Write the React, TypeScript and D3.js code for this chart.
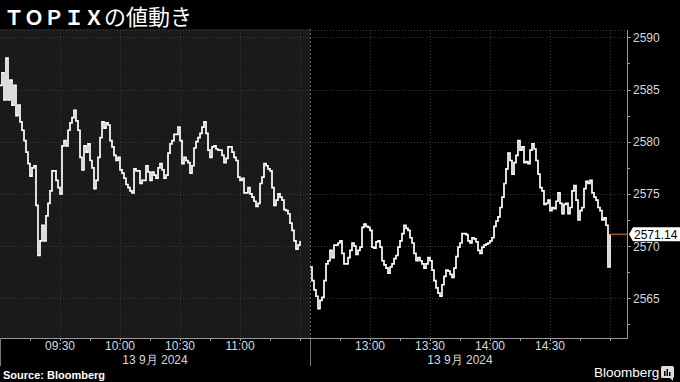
import React from 'react';
import * as d3 from 'd3';

const titleLatin = 'ＴＯＰＩＸ';
const titleJa = 'の値動き';
const sourceText = 'Source: Bloomberg';
const brandText = 'Bloomberg';
const dateLabel = '13 9月 2024';

// minute-by-minute index level, 09:00 - 11:30
const morningValues = [
  2585.4, 2586.6, 2584.0, 2588.0, 2584.0, 2585.9, 2583.5, 2585.4, 2582.5, 2583.5,
  2581.9, 2581.1, 2580.1, 2579.0, 2577.9, 2576.7, 2577.5, 2577.7, 2573.9, 2569.1,
  2570.5, 2572.0, 2570.5, 2572.9, 2574.1, 2575.3, 2577.2, 2577.2, 2576.3, 2575.6,
  2575.0, 2579.6, 2580.1, 2579.6, 2581.1, 2581.8, 2582.3, 2583.0, 2582.0, 2581.1,
  2578.5, 2577.3, 2579.6, 2579.0, 2579.8, 2578.2, 2577.5, 2575.5, 2576.3, 2578.5,
  2580.4, 2581.9, 2581.3, 2581.8, 2581.6, 2580.1, 2579.5, 2578.7, 2578.2, 2578.5,
  2577.3, 2577.0, 2576.5, 2575.9, 2575.6, 2575.3, 2575.1, 2577.4, 2577.2, 2577.2,
  2576.0, 2576.3, 2576.3, 2577.7, 2577.1, 2576.3, 2577.1, 2576.8, 2576.5, 2577.5,
  2577.9, 2577.3, 2576.5, 2576.8, 2578.9, 2579.8, 2580.1, 2580.7, 2580.7, 2581.4,
  2580.1, 2577.9, 2578.5, 2578.2, 2578.0, 2577.0, 2577.7, 2579.4, 2580.0, 2580.4,
  2580.8, 2581.4, 2581.9, 2580.8, 2579.2, 2578.5, 2579.5, 2579.6, 2579.3, 2579.2,
  2579.2, 2578.7, 2578.0, 2578.4, 2579.5, 2579.5, 2579.0, 2578.5, 2578.2, 2576.6,
  2576.3, 2576.5, 2575.1, 2575.1, 2575.6, 2575.0, 2574.7, 2574.3, 2573.8, 2574.1,
  2576.0, 2576.6, 2577.9, 2577.7, 2577.4, 2577.2, 2575.6, 2573.9, 2574.4, 2575.0,
  2574.7, 2574.4, 2573.5, 2573.4, 2573.1, 2572.2, 2571.5, 2570.5, 2569.7, 2570.1,
  2570.5,
];

// minute-by-minute index level, 12:30 - 15:00
const afternoonValues = [
  2568.0, 2566.7, 2565.8, 2565.2, 2564.0, 2564.8, 2565.1, 2566.7, 2568.3, 2568.6,
  2569.6, 2568.9, 2570.1, 2570.1, 2570.3, 2570.5, 2569.3, 2568.3, 2568.3, 2568.9,
  2569.6, 2570.3, 2570.0, 2569.2, 2569.6, 2569.9, 2571.8, 2572.1, 2571.9, 2571.8,
  2571.5, 2569.9, 2569.8, 2570.4, 2570.5, 2569.9, 2568.6, 2568.2, 2567.9, 2567.4,
  2568.0, 2568.3, 2568.8, 2569.1, 2569.9, 2570.5, 2571.2, 2572.0, 2571.7, 2571.5,
  2570.8, 2570.3, 2569.3, 2568.6, 2568.9, 2568.6, 2568.3, 2567.9, 2568.3, 2568.9,
  2568.6, 2567.7, 2566.7, 2566.0, 2565.5, 2565.2, 2566.3, 2567.1, 2567.7, 2567.6,
  2567.3, 2567.0, 2567.9, 2569.0, 2569.9, 2570.3, 2571.2, 2571.2, 2571.1, 2570.5,
  2570.3, 2570.8, 2570.7, 2570.4, 2569.6, 2569.3, 2569.9, 2570.1, 2570.2, 2570.3,
  2570.5, 2570.8, 2571.9, 2572.4, 2572.8, 2573.7, 2574.7, 2576.0, 2577.4, 2578.9,
  2578.2, 2576.9, 2578.0, 2578.7, 2580.1, 2579.2, 2579.5, 2578.0, 2578.1, 2577.9,
  2579.2, 2579.8, 2579.3, 2578.2, 2576.9, 2575.6, 2575.3, 2574.0, 2574.1, 2574.4,
  2573.4, 2573.7, 2573.6, 2574.3, 2575.1, 2574.1, 2573.1, 2574.0, 2574.1, 2573.1,
  2573.7, 2575.3, 2575.8, 2574.4, 2572.5, 2573.4, 2573.7, 2575.5, 2576.2, 2576.0,
  2576.3, 2575.1, 2574.7, 2574.4, 2573.7, 2573.4, 2572.5, 2572.7, 2572.0, 2568.0,
  2571.14,
];

const lastPrice = 2571.14;
const yTicks = [2565, 2570, 2575, 2580, 2585, 2590];
const yMinorTicks = [2562.5, 2567.5, 2572.5, 2577.5, 2582.5, 2587.5];
const xTickLabels = ['09:30', '10:00', '10:30', '11:00', '13:00', '13:30', '14:00', '14:30'];
const xGridTimes = ['09:30', '10:00', '10:30', '11:00', '11:30', '13:00', '13:30', '14:00', '14:30', '15:00'];
const xMinorTimes = ['09:15', '09:45', '10:15', '10:45', '11:15', '12:45', '13:15', '13:45', '14:15', '14:45'];
const morningOpen = '09:00';
const morningClose = '11:30';
const afternoonOpen = '12:30';
const afternoonClose = '15:00';

const toMin = (s: string) => {
  const [h, m] = s.split(':').map(Number);
  return h * 60 + m - 540;
};

const W = 680;
const H = 382;
const plotLeft = 0;
const plotRight = 627;
const plotTop = 30;
const plotBottom = 338;

export default function App() {
  const x = d3
    .scaleLinear()
    .domain([toMin(morningOpen), toMin(morningClose), toMin(afternoonOpen), toMin(afternoonClose)])
    .range([0, 300, 310, 610]);
  const y = d3.scaleLinear().domain([2561.2, 2590.7]).range([plotBottom, plotTop]);

  const mk = (vals: number[], start: string) =>
    d3
      .line<number>()
      .x((_, i) => x(toMin(start) + i))
      .y((d) => y(d))
      .curve(d3.curveStepAfter)(vals) as string;

  const morningPath = mk(morningValues, morningOpen);
  const afternoonPath = mk(afternoonValues, afternoonOpen);

  const sepX = Math.round(x(toMin(afternoonOpen))) + 0.5;
  const grid = '#3a3a3a';
  const axisColor = '#9a9a9a';
  const labelColor = '#d8d8d8';
  const font = '"Liberation Sans", Arial, sans-serif';
  const ly = y(lastPrice);

  return (
    <svg
      width={W}
      height={H}
      style={{ position: 'absolute', left: 0, top: 0, background: '#000' }}
    >
      <rect x={0} y={0} width={W} height={H} fill="#000" />
      {/* morning shading */}
      <rect x={plotLeft} y={plotTop - 1} width={sepX - plotLeft} height={plotBottom - plotTop + 1} fill="#1a1a1a" />

      {/* horizontal grid */}
      {yTicks.map((t) => (
        <line key={'hg' + t} x1={plotLeft} x2={plotRight} y1={Math.round(y(t)) + 0.5} y2={Math.round(y(t)) + 0.5}
          stroke={grid} strokeDasharray="1,2" />
      ))}
      <line x1={plotLeft} x2={plotRight} y1={plotTop + 0.5} y2={plotTop + 0.5} stroke={grid} strokeDasharray="1,2" />
      {/* vertical grid */}
      {xGridTimes.map((t) => (
        <line key={'vg' + t} x1={Math.round(x(toMin(t))) + 0.5} x2={Math.round(x(toMin(t))) + 0.5}
          y1={plotTop} y2={plotBottom} stroke={grid} strokeDasharray="1,2" />
      ))}
      {/* session separator */}
      <line x1={sepX} x2={sepX} y1={plotTop - 1} y2={plotBottom} stroke="#666" strokeDasharray="2,2" />

      {/* series */}
      <path d={morningPath} fill="none" stroke="#fff" strokeWidth={1.7} />
      <path d={afternoonPath} fill="none" stroke="#fff" strokeWidth={1.7} />

      {/* last price line */}
      <line x1={x(toMin(afternoonClose))} x2={plotRight} y1={ly} y2={ly} stroke="#c0682a" strokeWidth={1.2} />

      {/* right axis */}
      <line x1={plotRight + 0.5} x2={plotRight + 0.5} y1={plotTop} y2={plotBottom} stroke={axisColor} />
      {yTicks.map((t) => (
        <g key={'yt' + t}>
          <line x1={plotRight} x2={plotRight + 4} y1={Math.round(y(t)) + 0.5} y2={Math.round(y(t)) + 0.5} stroke={axisColor} />
          <text x={633} y={y(t) + 4.5} fill={labelColor} fontSize={12} fontFamily={font}>{t}</text>
        </g>
      ))}
      {yMinorTicks.map((t) => (
        <line key={'ym' + t} x1={plotRight} x2={plotRight + 3} y1={Math.round(y(t)) + 0.5} y2={Math.round(y(t)) + 0.5} stroke={axisColor} />
      ))}

      {/* last price label */}
      <path
        d={`M${plotRight + 2},${ly} L${plotRight + 6},${ly - 7} L${W},${ly - 7} L${W},${ly + 7} L${plotRight + 6},${ly + 7} Z`}
        fill="#fff"
      />
      <text x={634} y={ly + 4.5} fill="#000" fontSize={12} fontFamily={font}>{lastPrice.toFixed(2)}</text>

      {/* bottom axis */}
      <line x1={plotLeft} x2={plotRight + 1} y1={plotBottom + 0.5} y2={plotBottom + 0.5} stroke={axisColor} />
      {xGridTimes.concat(xMinorTimes).map((t) => (
        <line key={'xt' + t} x1={Math.round(x(toMin(t))) + 0.5} x2={Math.round(x(toMin(t))) + 0.5}
          y1={plotBottom} y2={plotBottom + 3} stroke={axisColor} />
      ))}
      <line x1={0.5} x2={0.5} y1={plotBottom} y2={366} stroke="#777" />
      <line x1={sepX} x2={sepX} y1={plotBottom} y2={366} stroke="#777" />
      {xTickLabels.map((t) => (
        <text key={'xl' + t} x={x(toMin(t))} y={350} fill={labelColor} fontSize={12} fontFamily={font} textAnchor="middle">{t}</text>
      ))}
      <text x={(x(toMin(morningOpen)) + x(toMin(morningClose))) / 2 + 5} y={364} fill={labelColor} fontSize={12}
        fontFamily={font} textAnchor="middle">{dateLabel}</text>
      <text x={(x(toMin(afternoonOpen)) + x(toMin(afternoonClose))) / 2} y={364} fill={labelColor} fontSize={12}
        fontFamily={font} textAnchor="middle">{dateLabel}</text>

      {/* title */}
      <text x={4} y={25} fill="#fff" fontFamily='"Noto Sans CJK JP", sans-serif'>
        <tspan fontSize={20} fontWeight="bold">{titleLatin}</tspan>
        <tspan fontSize={22}>{titleJa}</tspan>
      </text>

      {/* footer */}
      <text x={3} y={379} fill="#fff" fontSize={11} fontWeight="bold" fontFamily={font}>{sourceText}</text>
      <text x={594} y={377} fill="#fff" fontSize={13.5} fontFamily={font}>{brandText}</text>
      <g transform="translate(661,366)">
        <rect x={0} y={0} width={13} height={12} rx={1.5} fill="#ddd" />
        <rect x={3} y={5} width={1.5} height={5} fill="#000" />
        <rect x={5.5} y={3} width={1.5} height={7} fill="#000" />
        <rect x={8} y={6} width={1.5} height={4} fill="#000" />
        <path d="M9,12 L12,15 L12,12 Z" fill="#ddd" />
      </g>
    </svg>
  );
}
